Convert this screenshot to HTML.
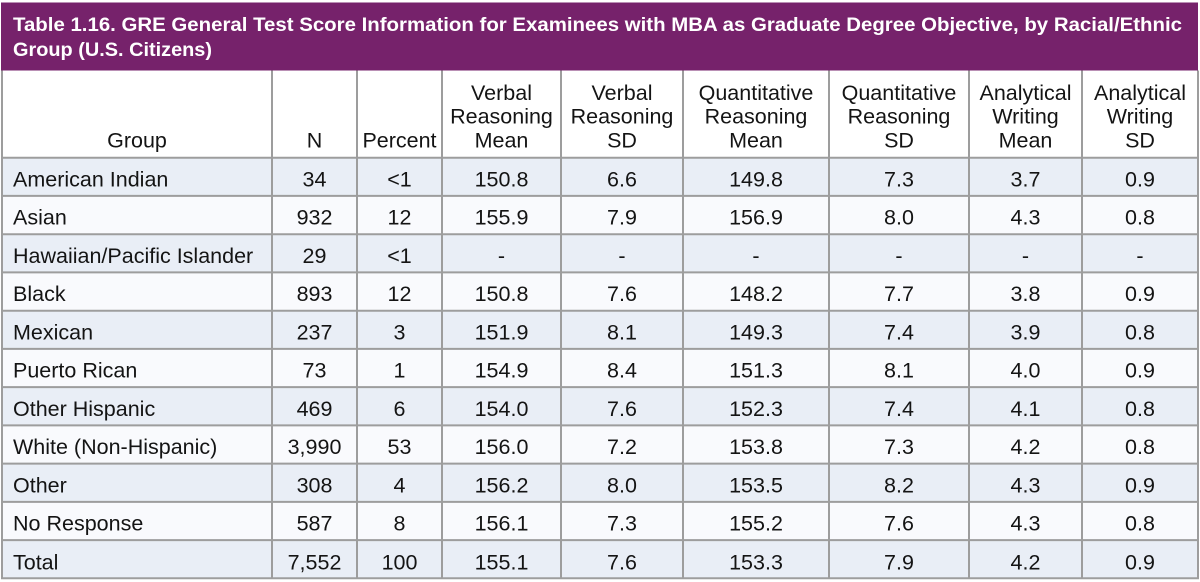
<!DOCTYPE html>
<html><head><meta charset="utf-8"><style>
html,body{margin:0;padding:0;background:#fff;width:1200px;height:582px;overflow:hidden}
svg{display:block}
text{font-family:"Liberation Sans",Arial,sans-serif;fill:#141414;font-size:21.5px}
.t{fill:#fff;font-weight:bold;font-size:19px}
.c{text-anchor:middle}
</style></head><body>
<svg width="1200" height="582" viewBox="0 0 1200 582" xmlns="http://www.w3.org/2000/svg">
<rect x="0" y="0" width="1200" height="582" fill="#fff"/>
<rect x="1" y="2.5" width="1197" height="68" fill="#76226b"/>
<text class="t" x="13" y="31" textLength="1169" lengthAdjust="spacingAndGlyphs">Table 1.16. GRE General Test Score Information for Examinees with MBA as Graduate Degree Objective, by Racial/Ethnic</text>
<text class="t" x="13" y="56" textLength="199" lengthAdjust="spacingAndGlyphs">Group (U.S. Citizens)</text>

<rect x="2" y="70.5" width="1196" height="87" fill="#ffffff"/>
<g>
<rect x="2" y="157.7" width="1196" height="38.2" fill="#e9eef6"/>
<rect x="2" y="195.9" width="1196" height="38.3" fill="#f9fafd"/>
<rect x="2" y="234.2" width="1196" height="38.2" fill="#e9eef6"/>
<rect x="2" y="272.4" width="1196" height="38.3" fill="#f9fafd"/>
<rect x="2" y="310.7" width="1196" height="38.2" fill="#e9eef6"/>
<rect x="2" y="348.9" width="1196" height="38.2" fill="#f9fafd"/>
<rect x="2" y="387.1" width="1196" height="38.3" fill="#e9eef6"/>
<rect x="2" y="425.4" width="1196" height="38.2" fill="#f9fafd"/>
<rect x="2" y="463.6" width="1196" height="38.3" fill="#e9eef6"/>
<rect x="2" y="501.9" width="1196" height="38.2" fill="#f9fafd"/>
<rect x="2" y="540.1" width="1196" height="38.2" fill="#e9eef6"/>
</g>
<g stroke="#9d9d9d" stroke-width="2" fill="none">
<line x1="2" y1="157.7" x2="1198" y2="157.7"/>
<line x1="2" y1="195.9" x2="1198" y2="195.9"/>
<line x1="2" y1="234.2" x2="1198" y2="234.2"/>
<line x1="2" y1="272.4" x2="1198" y2="272.4"/>
<line x1="2" y1="310.7" x2="1198" y2="310.7"/>
<line x1="2" y1="348.9" x2="1198" y2="348.9"/>
<line x1="2" y1="387.1" x2="1198" y2="387.1"/>
<line x1="2" y1="425.4" x2="1198" y2="425.4"/>
<line x1="2" y1="463.6" x2="1198" y2="463.6"/>
<line x1="2" y1="501.9" x2="1198" y2="501.9"/>
<line x1="2" y1="540.1" x2="1198" y2="540.1"/>
<line x1="1" y1="578.3" x2="1199" y2="578.3"/>
<line x1="2" y1="70.5" x2="2" y2="578.3"/>
<line x1="272" y1="70.5" x2="272" y2="578.3"/>
<line x1="357" y1="70.5" x2="357" y2="578.3"/>
<line x1="442" y1="70.5" x2="442" y2="578.3"/>
<line x1="561" y1="70.5" x2="561" y2="578.3"/>
<line x1="683" y1="70.5" x2="683" y2="578.3"/>
<line x1="829" y1="70.5" x2="829" y2="578.3"/>
<line x1="969" y1="70.5" x2="969" y2="578.3"/>
<line x1="1082" y1="70.5" x2="1082" y2="578.3"/>
<line x1="1198" y1="70.5" x2="1198" y2="578.3"/>
</g>

<g>
<text class="c" x="137" y="147.5">Group</text>
<text class="c" x="314.5" y="147.5">N</text>
<text class="c" x="399.5" y="147.5">Percent</text>

<text class="c" x="501.5" y="100">Verbal</text>
<text class="c" x="501.5" y="123.5">Reasoning</text>
<text class="c" x="501.5" y="147.5">Mean</text>

<text class="c" x="622" y="100">Verbal</text>
<text class="c" x="622" y="123.5">Reasoning</text>
<text class="c" x="622" y="147.5">SD</text>

<text class="c" x="756" y="100">Quantitative</text>
<text class="c" x="756" y="123.5">Reasoning</text>
<text class="c" x="756" y="147.5">Mean</text>

<text class="c" x="899" y="100">Quantitative</text>
<text class="c" x="899" y="123.5">Reasoning</text>
<text class="c" x="899" y="147.5">SD</text>

<text class="c" x="1025.5" y="100">Analytical</text>
<text class="c" x="1025.5" y="123.5">Writing</text>
<text class="c" x="1025.5" y="147.5">Mean</text>

<text class="c" x="1140" y="100">Analytical</text>
<text class="c" x="1140" y="123.5">Writing</text>
<text class="c" x="1140" y="147.5">SD</text>
</g>

<g>
<text x="13" y="186.3">American Indian</text>
<text class="c" x="314.5" y="186.3">34</text><text class="c" x="399.5" y="186.3">&lt;1</text><text class="c" x="501.5" y="186.3">150.8</text><text class="c" x="622" y="186.3">6.6</text><text class="c" x="756" y="186.3">149.8</text><text class="c" x="899" y="186.3">7.3</text><text class="c" x="1025.5" y="186.3">3.7</text><text class="c" x="1140" y="186.3">0.9</text>

<text x="13" y="224.6">Asian</text>
<text class="c" x="314.5" y="224.6">932</text><text class="c" x="399.5" y="224.6">12</text><text class="c" x="501.5" y="224.6">155.9</text><text class="c" x="622" y="224.6">7.9</text><text class="c" x="756" y="224.6">156.9</text><text class="c" x="899" y="224.6">8.0</text><text class="c" x="1025.5" y="224.6">4.3</text><text class="c" x="1140" y="224.6">0.8</text>

<text x="13" y="262.9">Hawaiian/Pacific Islander</text>
<text class="c" x="314.5" y="262.9">29</text><text class="c" x="399.5" y="262.9">&lt;1</text><text class="c" x="501.5" y="262.9">-</text><text class="c" x="622" y="262.9">-</text><text class="c" x="756" y="262.9">-</text><text class="c" x="899" y="262.9">-</text><text class="c" x="1025.5" y="262.9">-</text><text class="c" x="1140" y="262.9">-</text>

<text x="13" y="301.1">Black</text>
<text class="c" x="314.5" y="301.1">893</text><text class="c" x="399.5" y="301.1">12</text><text class="c" x="501.5" y="301.1">150.8</text><text class="c" x="622" y="301.1">7.6</text><text class="c" x="756" y="301.1">148.2</text><text class="c" x="899" y="301.1">7.7</text><text class="c" x="1025.5" y="301.1">3.8</text><text class="c" x="1140" y="301.1">0.9</text>

<text x="13" y="339.4">Mexican</text>
<text class="c" x="314.5" y="339.4">237</text><text class="c" x="399.5" y="339.4">3</text><text class="c" x="501.5" y="339.4">151.9</text><text class="c" x="622" y="339.4">8.1</text><text class="c" x="756" y="339.4">149.3</text><text class="c" x="899" y="339.4">7.4</text><text class="c" x="1025.5" y="339.4">3.9</text><text class="c" x="1140" y="339.4">0.8</text>

<text x="13" y="377.6">Puerto Rican</text>
<text class="c" x="314.5" y="377.6">73</text><text class="c" x="399.5" y="377.6">1</text><text class="c" x="501.5" y="377.6">154.9</text><text class="c" x="622" y="377.6">8.4</text><text class="c" x="756" y="377.6">151.3</text><text class="c" x="899" y="377.6">8.1</text><text class="c" x="1025.5" y="377.6">4.0</text><text class="c" x="1140" y="377.6">0.9</text>

<text x="13" y="415.9">Other Hispanic</text>
<text class="c" x="314.5" y="415.9">469</text><text class="c" x="399.5" y="415.9">6</text><text class="c" x="501.5" y="415.9">154.0</text><text class="c" x="622" y="415.9">7.6</text><text class="c" x="756" y="415.9">152.3</text><text class="c" x="899" y="415.9">7.4</text><text class="c" x="1025.5" y="415.9">4.1</text><text class="c" x="1140" y="415.9">0.8</text>

<text x="13" y="454.1">White (Non-Hispanic)</text>
<text class="c" x="314.5" y="454.1">3,990</text><text class="c" x="399.5" y="454.1">53</text><text class="c" x="501.5" y="454.1">156.0</text><text class="c" x="622" y="454.1">7.2</text><text class="c" x="756" y="454.1">153.8</text><text class="c" x="899" y="454.1">7.3</text><text class="c" x="1025.5" y="454.1">4.2</text><text class="c" x="1140" y="454.1">0.8</text>

<text x="13" y="492.4">Other</text>
<text class="c" x="314.5" y="492.4">308</text><text class="c" x="399.5" y="492.4">4</text><text class="c" x="501.5" y="492.4">156.2</text><text class="c" x="622" y="492.4">8.0</text><text class="c" x="756" y="492.4">153.5</text><text class="c" x="899" y="492.4">8.2</text><text class="c" x="1025.5" y="492.4">4.3</text><text class="c" x="1140" y="492.4">0.9</text>

<text x="13" y="530.7">No Response</text>
<text class="c" x="314.5" y="530.7">587</text><text class="c" x="399.5" y="530.7">8</text><text class="c" x="501.5" y="530.7">156.1</text><text class="c" x="622" y="530.7">7.3</text><text class="c" x="756" y="530.7">155.2</text><text class="c" x="899" y="530.7">7.6</text><text class="c" x="1025.5" y="530.7">4.3</text><text class="c" x="1140" y="530.7">0.8</text>

<text x="13" y="569.5">Total</text>
<text class="c" x="314.5" y="569.5">7,552</text><text class="c" x="399.5" y="569.5">100</text><text class="c" x="501.5" y="569.5">155.1</text><text class="c" x="622" y="569.5">7.6</text><text class="c" x="756" y="569.5">153.3</text><text class="c" x="899" y="569.5">7.9</text><text class="c" x="1025.5" y="569.5">4.2</text><text class="c" x="1140" y="569.5">0.9</text>
</g>
</svg>
</body></html>
